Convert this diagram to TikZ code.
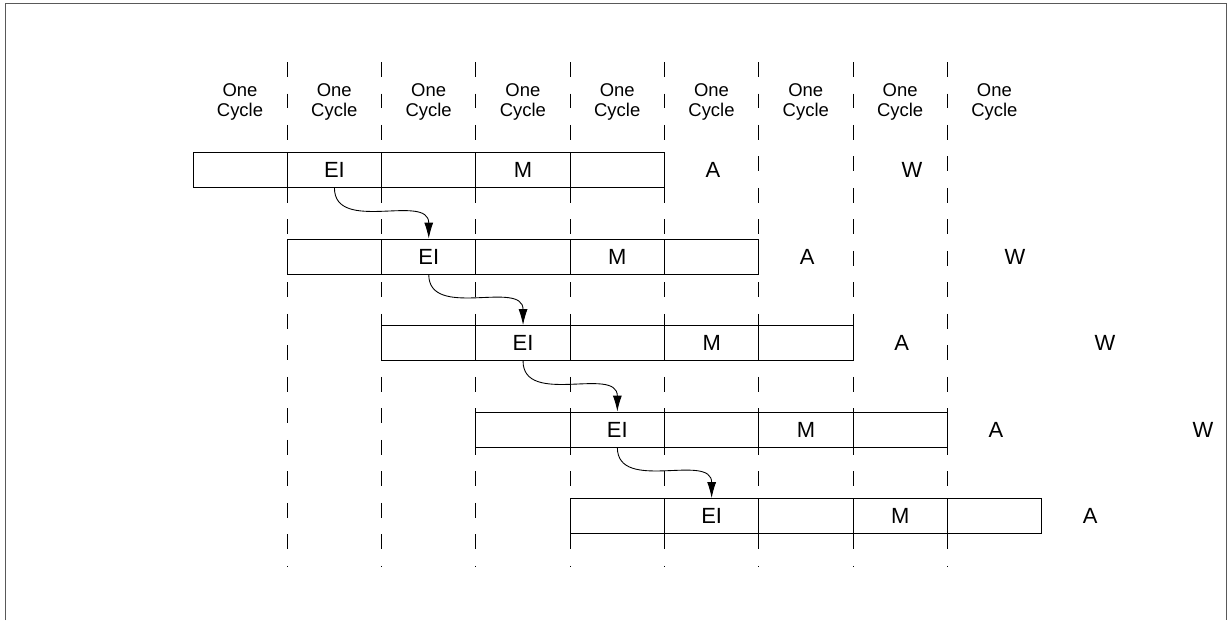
\documentclass[tikz,border=0pt]{standalone}
\usepackage{fontspec}
\setmainfont{Liberation Sans}
\usetikzlibrary{arrows.meta}
\tikzset{
  cell/.style={draw, minimum width=1.886cm, minimum height=0.7cm, inner sep=0pt, font=\fontsize{12.5}{13}\selectfont},
  stage/.style={font=\fontsize{12.5}{13}\selectfont},
  cyc/.style={align=center, font=\fontsize{10.5}{11.5}\selectfont},
  tick/.style={dash pattern=on 0.3cm off 0.33cm},
  hop/.style={-{Latex[length=0.32cm,width=0.18cm]}}
}
\begin{document}
\begin{tikzpicture}[x=0.02cm,y=-0.02cm,line width=0.5pt]
  \useasboundingbox (0,0) rectangle (1228,620);
  % frame
  \draw[gray!70!black] (5,620) -- (5,3) -- (1226,3) -- (1226,620);

  % cycle columns
  \foreach \k in {1,...,8}
    \draw[tick] (193+94.3*\k,62) -- (193+94.3*\k,566);
  \foreach \k in {0,...,8}
    \node[cyc] (cyc\k) at (240+94.3*\k,102) {One\\Cycle};

  % instruction rows
  \foreach \r in {0,...,4}{
    \foreach \c in {1,...,5}
      \node[cell] (c\r\c) at (193+94.3*\r+94.3*\c-47.15,170+86.5*\r) {};
    \node[stage] at (c\r2) {EI};
    \node[stage] at (c\r4) {M};
    \node[stage] (a\r) at (713+94.3*\r,170+86.5*\r) {A};
  }
  \node[stage] (w0) at (912,170) {W};
  \node[stage] (w1) at (1015,257) {W};
  \node[stage] (w2) at (1105,343) {W};
  \node[stage] (w3) at (1203,430) {W};

  % forwarding
  \foreach \r [count=\n] in {0,...,3}
    \draw[hop] (c\r2.south) to[out=-90,in=90,looseness=1.1] (c\n2.north);
\end{tikzpicture}
\end{document}
